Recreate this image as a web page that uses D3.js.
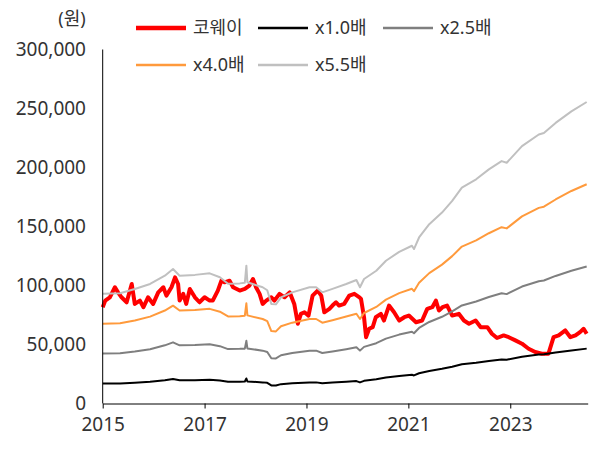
<!DOCTYPE html>
<html>
<head>
<meta charset="utf-8">
<script src="https://cdn.jsdelivr.net/npm/d3@7/dist/d3.min.js"></script>
<style>
  body { margin: 0; background: #fff; }
  svg { font-family: "Noto Sans", "Noto Sans CJK KR", sans-serif; }
</style>
</head>
<body>
<svg width="605" height="455"></svg>
<script>
// 코웨이 price vs PBR band (x1.0 ~ x5.5)
// dates are decimal years, values in won

var priceYears = [2015.00, 2015.05, 2015.14, 2015.24, 2015.30, 2015.37, 2015.47, 2015.57, 2015.63, 2015.73,
  2015.80, 2015.89, 2015.99, 2016.09, 2016.19, 2016.25, 2016.35, 2016.42, 2016.48, 2016.51,
  2016.58, 2016.64, 2016.71, 2016.81, 2016.90, 2017.00, 2017.10, 2017.16, 2017.26, 2017.33,
  2017.39, 2017.49, 2017.56, 2017.69, 2017.79, 2017.88, 2017.95, 2018.01, 2018.08, 2018.14,
  2018.21, 2018.31, 2018.37, 2018.47, 2018.57, 2018.67, 2018.76, 2018.83, 2018.89, 2018.96,
  2019.04, 2019.12, 2019.22, 2019.29, 2019.35, 2019.45, 2019.51, 2019.58, 2019.64, 2019.74,
  2019.84, 2019.94, 2020.04, 2020.07, 2020.13, 2020.17, 2020.23, 2020.30, 2020.36, 2020.46,
  2020.52, 2020.62, 2020.72, 2020.82, 2020.92, 2021.01, 2021.15, 2021.27, 2021.37, 2021.47,
  2021.54, 2021.60, 2021.67, 2021.76, 2021.86, 2021.99, 2022.09, 2022.19, 2022.32, 2022.42,
  2022.55, 2022.64, 2022.74, 2022.87, 2022.97, 2023.10, 2023.23, 2023.36, 2023.49, 2023.62,
  2023.75, 2023.85, 2023.95, 2024.08, 2024.18, 2024.28, 2024.37, 2024.44, 2024.50];
var priceValues = [81600, 87200, 90000, 98500, 94200, 90000, 85800, 101300, 84400, 87200,
  81600, 90000, 84400, 94200, 98500, 91400, 98500, 106900, 101300, 87200,
  92900, 84400, 97100, 90000, 85800, 90000, 87200, 87200, 95700, 104100,
  102700, 104100, 98500, 95700, 97100, 99900, 105500, 98500, 92900, 84400,
  87200, 90000, 87200, 92900, 90000, 94200, 84400, 67600, 76000, 77300,
  74500, 91400, 95700, 91400, 77300, 80200, 83000, 85800, 83000, 84400,
  91400, 92900, 90000, 88700, 73100, 56200, 63300, 64700, 73100, 76000,
  70300, 83000, 77300, 70300, 73100, 74500, 68900, 70300, 80200, 81600,
  87200, 78800, 81600, 83000, 74500, 76000, 70300, 67600, 70300, 64700,
  64700, 59100, 55500, 57700, 56200, 53500, 50700, 46400, 43600, 42200,
  42200, 56200, 57700, 61900, 56200, 57700, 60500, 63300, 59100];

var bandYears = [2015.00, 2015.34, 2015.63, 2015.93, 2016.22, 2016.38, 2016.51, 2016.81, 2017.10, 2017.30,
  2017.46, 2017.69, 2017.79, 2017.82, 2017.84, 2018.14, 2018.23, 2018.31, 2018.40, 2018.50,
  2018.72, 2019.06, 2019.19, 2019.31, 2019.51, 2019.78, 2019.98, 2020.05, 2020.13, 2020.37,
  2020.56, 2020.82, 2021.07, 2021.11, 2021.21, 2021.41, 2021.66, 2021.86, 2022.05, 2022.33,
  2022.58, 2022.83, 2022.93, 2023.23, 2023.56, 2023.66, 2023.89, 2024.20, 2024.50];
var band10 = [16900, 17000, 17600, 18400, 19700, 20700, 19700, 19800, 20100, 19500,
  18500, 18500, 18600, 21200, 18700, 17900, 17500, 15300, 15300, 16400,
  17100, 17900, 17900, 17100, 17700, 18400, 19000, 17900, 19200, 20500,
  22000, 23400, 24300, 23800, 25600, 27600, 29400, 31200, 33300, 34500,
  36100, 37300, 37100, 39700, 41500, 41700, 43200, 45000, 46500];
var band25 = [42300, 42500, 44000, 46000, 49300, 51800, 49300, 49500, 50200, 48600,
  46100, 46300, 46500, 53100, 46700, 44800, 43600, 38400, 38200, 40900,
  42800, 44800, 44800, 42800, 44100, 46000, 47600, 44800, 48000, 51100,
  55000, 58400, 60800, 59500, 64000, 69100, 73500, 78000, 83100, 86400,
  90200, 93400, 92700, 99100, 103600, 104200, 108100, 112500, 116100];
var band40 = [67600, 68000, 70400, 73600, 78800, 82900, 78800, 79300, 80200, 77800,
  73800, 74000, 74400, 84900, 74700, 71600, 69800, 61400, 61100, 65500,
  68500, 71600, 71600, 68500, 70600, 73700, 76100, 71600, 76700, 81800,
  88000, 93500, 97200, 95200, 102300, 110500, 117700, 124900, 133000, 138200,
  144300, 149400, 148400, 158600, 165800, 166800, 172900, 180100, 185800];
var band55 = [93000, 93400, 97000, 101300, 108300, 114000, 108300, 109000, 110300, 107000,
  101500, 101800, 102300, 116800, 102700, 98500, 96000, 84400, 84000, 90000,
  94200, 98500, 98500, 94200, 97100, 101300, 104700, 98500, 105500, 112500,
  121000, 128500, 133700, 130900, 140700, 152000, 161800, 171700, 182900, 190000,
  198400, 205400, 204000, 218100, 228000, 229300, 237800, 247600, 255500];

var seriesNames = ["코웨이", "x1.0배", "x2.5배", "x4.0배", "x5.5배"];
var seriesColors = ["#ff0000", "#000000", "#7f7f7f", "#ff9a3c", "#c0c0c0"];
var yTicks = [0, 50000, 100000, 150000, 200000, 250000, 300000];
var xTicks = [2015, 2017, 2019, 2021, 2023];
var unitLabel = "(원)";

var svg = d3.select("svg");
var textColor = "#333333";

// plot box (don't call it "top", window.top is read-only)
var plotLeft = 102.7, plotRight = 587.7, plotTop = 49.5, plotBottom = 403.5;

var x = d3.scaleLinear().domain([2015, 2024.52]).range([plotLeft, plotRight]);
var y = d3.scaleLinear().domain([0, 300000]).range([plotBottom, plotTop]);

// series list, price first so bands sit on top (excel order)
var series = [
  { years: priceYears, values: priceValues, width: 4 },
  { years: bandYears, values: band10, width: 2 },
  { years: bandYears, values: band25, width: 2 },
  { years: bandYears, values: band40, width: 2 },
  { years: bandYears, values: band55, width: 2 }
];
series.forEach(function(s, i) {
  s.name = seriesNames[i];
  s.color = seriesColors[i];
});

var line = d3.line()
  .x(function(d) { return x(d[0]); })
  .y(function(d) { return y(d[1]); });

var g = svg.append("g").attr("class", "lines");
g.selectAll("path")
  .data(series)
  .enter()
  .append("path")
  .attr("d", function(s) {
    return line(s.years.map(function(yr, k) { return [yr, s.values[k]]; }));
  })
  .attr("fill", "none")
  .attr("stroke", function(s) { return s.color; })
  .attr("stroke-width", function(s) { return s.width; })
  .attr("stroke-linejoin", "round");

// y axis: line only, labels on the left
svg.append("line")
  .attr("x1", plotLeft).attr("x2", plotLeft)
  .attr("y1", plotTop).attr("y2", plotBottom)
  .attr("stroke", "#000").attr("stroke-width", 1);

svg.append("g")
  .selectAll("text")
  .data(yTicks)
  .enter()
  .append("text")
  .attr("x", 86)
  .attr("y", function(d) { return y(d); })
  .attr("dy", "0.35em")
  .attr("text-anchor", "end")
  .attr("font-size", 19)
  .attr("fill", textColor)
  .text(function(d) { return d3.format(",")(d); });

// x axis with ticks going down
var xAxis = d3.axisBottom(x)
  .tickValues(xTicks)
  .tickFormat(d3.format("d"))
  .tickSize(5)
  .tickSizeOuter(0);
var xg = svg.append("g")
  .attr("transform", "translate(0," + plotBottom + ")")
  .call(xAxis);
xg.select(".domain").attr("stroke", "#000");
xg.selectAll(".tick line").attr("stroke", "#000");
xg.selectAll(".tick text")
  .attr("font-size", 19)
  .attr("font-family", "\"Noto Sans\", \"Noto Sans CJK KR\", sans-serif")
  .attr("fill", textColor)
  .attr("dy", "0.35em")
  .attr("y", 21);

// unit label
svg.append("text")
  .attr("x", 72).attr("y", 19)
  .attr("dy", "0.35em")
  .attr("text-anchor", "middle")
  .attr("font-size", 18)
  .attr("fill", textColor)
  .text(unitLabel);

// legend, two rows
var legendX = [136, 258, 383];
var legendY = [28, 65];
var legend = svg.append("g").attr("class", "legend")
  .selectAll("g")
  .data(series)
  .enter()
  .append("g")
  .attr("transform", function(d, i) {
    return "translate(" + legendX[i % 3] + "," + legendY[Math.floor(i / 3)] + ")";
  });
legend.append("line")
  .attr("x1", 0).attr("x2", 50)
  .attr("stroke", function(d) { return d.color; })
  .attr("stroke-width", function(d) { return d.width == 4 ? 4.5 : 2.5; });
legend.append("text")
  .attr("x", 57)
  .attr("dy", "0.35em")
  .attr("font-size", 18)
  .attr("fill", textColor)
  .text(function(d) { return d.name; });
</script>
</body>
</html>
